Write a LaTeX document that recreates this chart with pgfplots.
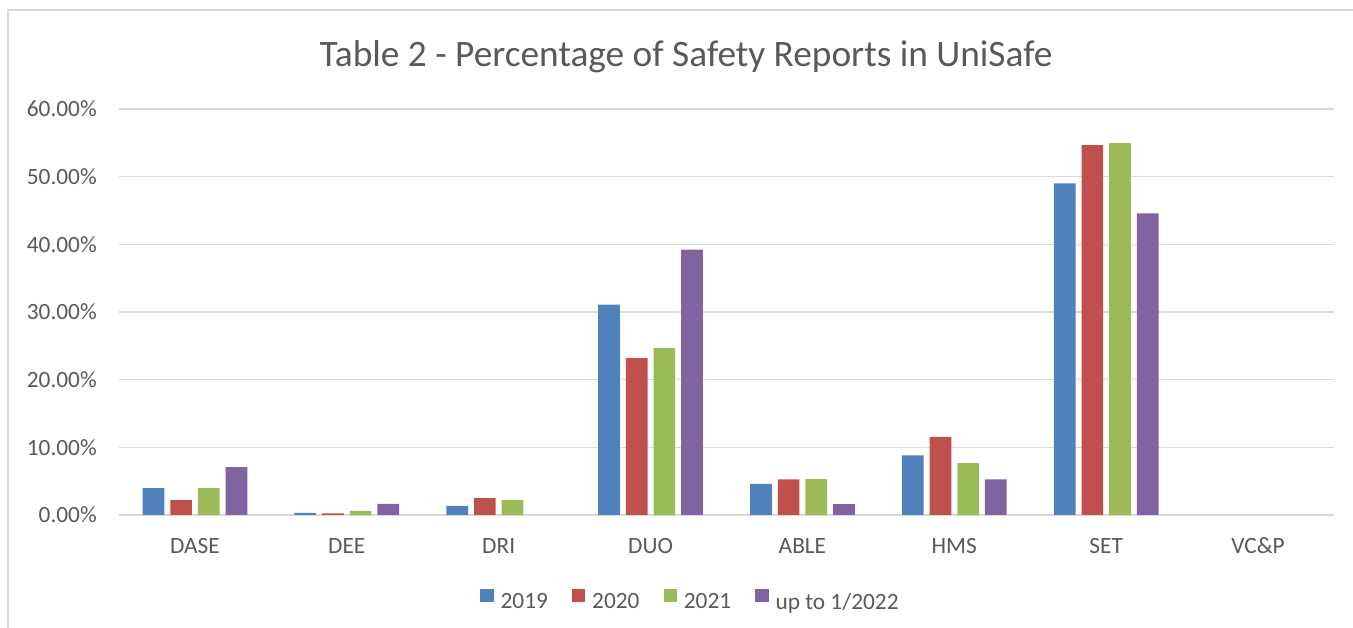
\documentclass[border=0pt]{standalone}
\usepackage{pgfplots}
\pgfplotsset{compat=1.18}
\usepackage{fontspec}
\setmainfont{Carlito}
\definecolor{txt}{HTML}{595959}
\definecolor{gridc}{HTML}{D9D9D9}
\definecolor{cA}{HTML}{4F81BD}
\definecolor{cB}{HTML}{C0504D}
\definecolor{cC}{HTML}{9BBB59}
\definecolor{cD}{HTML}{8064A2}
\begin{document}
\begin{tikzpicture}
\path[use as bounding box] (0pt,0pt) rectangle (1014.75pt,471pt);
\draw[gridc, line width=1pt] (6pt,0pt) -- (6pt,463.5pt) -- (1014.75pt,463.5pt);
\node[anchor=base, text=txt, font=\fontsize{28pt}{34pt}\selectfont, inner sep=0pt] at (514.5pt,420.75pt) {Table 2 - Percentage of Safety Reports in UniSafe};
\begin{axis}[
  at={(89.25pt,84.75pt)}, anchor=south west,
  scale only axis, width=911.25pt, height=304.5pt,
  xmin=-0.5, xmax=7.5, ymin=0, ymax=60,
  ybar=4.5pt, bar width=16.25pt,
  axis line style={draw=none},
  major tick length=0pt,
  ymajorgrids, grid style={gridc, line width=1pt},
  ytick={0,10,20,30,40,50,60},
  yticklabel={\pgfmathprintnumber[fixed,fixed zerofill,precision=2]{\tick}\%},
  /pgf/number format/assume math mode=true,
  xtick={0,1,2,3,4,5,6,7},
  xticklabels={DASE,DEE,DRI,DUO,ABLE,HMS,SET,VC\&P},
  tick label style={text=txt, font=\fontsize{17.5pt}{21pt}\selectfont, inner sep=0pt},
  yticklabel style={anchor=east, xshift=-16.5pt},
  xticklabel style={anchor=base, yshift=-29.25pt},
  legend columns=4,
  legend style={draw=none, fill=none, at={(0.4695,-0.209)}, anchor=center,
    font=\fontsize{17.5pt}{21pt}\selectfont, text=txt,
    nodes={inner sep=0pt},
    /tikz/every odd column/.append style={column sep=5.25pt},
    /tikz/every even column/.append style={column sep=18pt}},
  legend image code/.code={\fill[#1] (0pt,0pt) rectangle (10pt,10pt);},
]
\addplot[fill=cA, draw=none] coordinates {(0,3.97) (1,0.30) (2,1.34) (3,31.08) (4,4.6) (5,8.8) (6,49.0)};
\addplot[fill=cB, draw=none] coordinates {(0,2.18) (1,0.25) (2,2.48) (3,23.2) (4,5.26) (5,11.55) (6,54.66)};
\addplot[fill=cC, draw=none] coordinates {(0,3.97) (1,0.60) (2,2.18) (3,24.7) (4,5.3) (5,7.68) (6,54.95)};
\addplot[fill=cD, draw=none] coordinates {(0,7.09) (1,1.63) (3,39.2) (4,1.6) (5,5.26) (6,44.57)};
\legend{2019,2020,2021,up to 1/2022}
\end{axis}
\end{tikzpicture}
\end{document}
